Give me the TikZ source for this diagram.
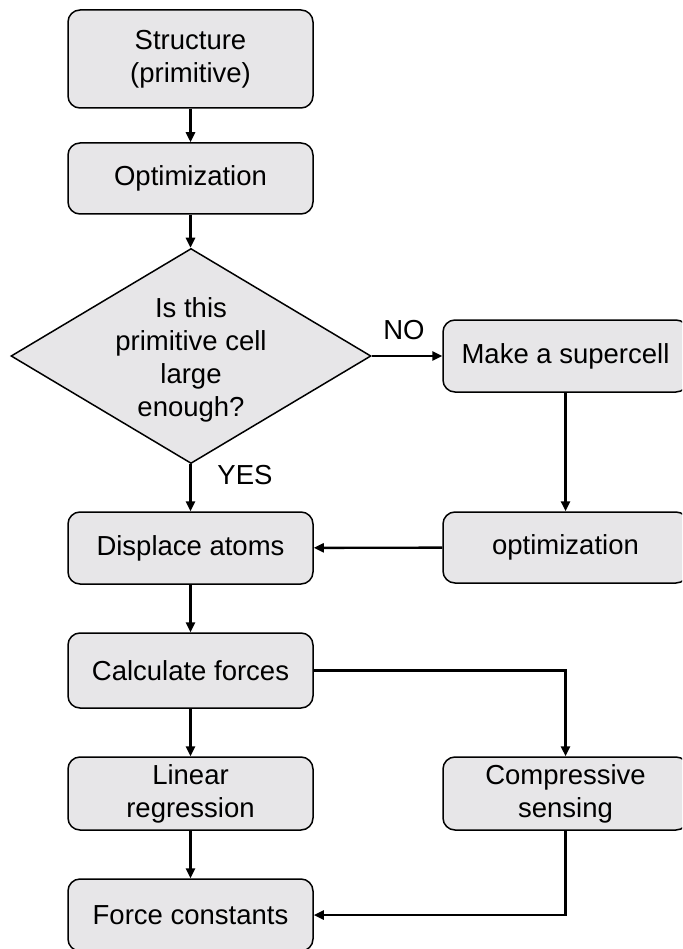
\documentclass[tikz,border=0pt]{standalone}
\usepackage{fontspec}
\setmainfont{Liberation Sans}
\usetikzlibrary{arrows.meta,shapes.geometric}
\definecolor{boxfill}{RGB}{231,230,232}
\tikzset{
  stepbox/.style={draw=black, line width=1.5pt, fill=boxfill, rounded corners=12pt,
    minimum width=245pt, inner sep=0pt, align=center,
    font=\fontsize{27.5}{33}\selectfont},
  decisionbox/.style={draw=black, line width=1.5pt, fill=boxfill, diamond,
    minimum width=360pt, minimum height=215pt, inner sep=0pt},
  flow/.style={line width=2.4pt, -{Triangle[length=10pt,width=9pt]}},
  lbl/.style={inner sep=0pt, font=\fontsize{27.5}{33}\selectfont}
}
\begin{document}
\begin{tikzpicture}[x=1pt,y=-1pt]
  \useasboundingbox (0,0) rectangle (682,949);
  \clip (0,0) rectangle (682,949);

  % left column
  \node[stepbox, minimum height=98pt] (struct) at (190.5,59) {Structure\\(primitive)};
  \node[stepbox, minimum height=71pt] (opt1) at (190.5,178.5) {Optimization};
  \node[decisionbox] (dia) at (191,356) {};
  \node[lbl, align=center] (diatext) at (191,360) {Is this\\primitive cell\\large\\enough?};
  \node[stepbox, minimum height=72pt] (disp) at (190.5,548) {Displace atoms};
  \node[stepbox, minimum height=75pt] (calc) at (190.5,670.5) {Calculate forces};
  \node[stepbox, minimum height=73pt] (lin) at (190.5,793.5) {Linear\\regression};
  \node[stepbox, minimum height=72pt] (fc) at (190.5,915) {Force constants};

  % right column
  \node[stepbox, minimum height=72pt] (sup) at (565.5,356) {Make a supercell};
  \node[stepbox, minimum height=71pt] (opt2) at (565.5,547.5) {optimization};
  \node[stepbox, minimum height=73pt] (cs) at (565.5,793.5) {Compressive\\sensing};

  % branch labels
  \node[lbl] (no) at (404,330) {NO};
  \node[lbl] (yes) at (245,475) {YES};

  % connectors
  \draw[flow] (struct) -- (opt1);
  \draw[flow] (opt1.south) -- (opt1.south |- dia.north);
  \draw[flow] (dia.east) -- (sup.west);
  \draw[flow] (dia.south -| disp.north) -- (disp.north);
  \draw[flow] (sup) -- (opt2);
  \draw[flow] (opt2) -- (disp);
  \draw[flow] (disp) -- (calc);
  \draw[flow] (calc.east) -| (cs.north);
  \draw[flow] (calc) -- (lin);
  \draw[flow] (lin) -- (fc);
  \draw[flow] (cs.south) |- (fc.east);
\end{tikzpicture}
\end{document}
